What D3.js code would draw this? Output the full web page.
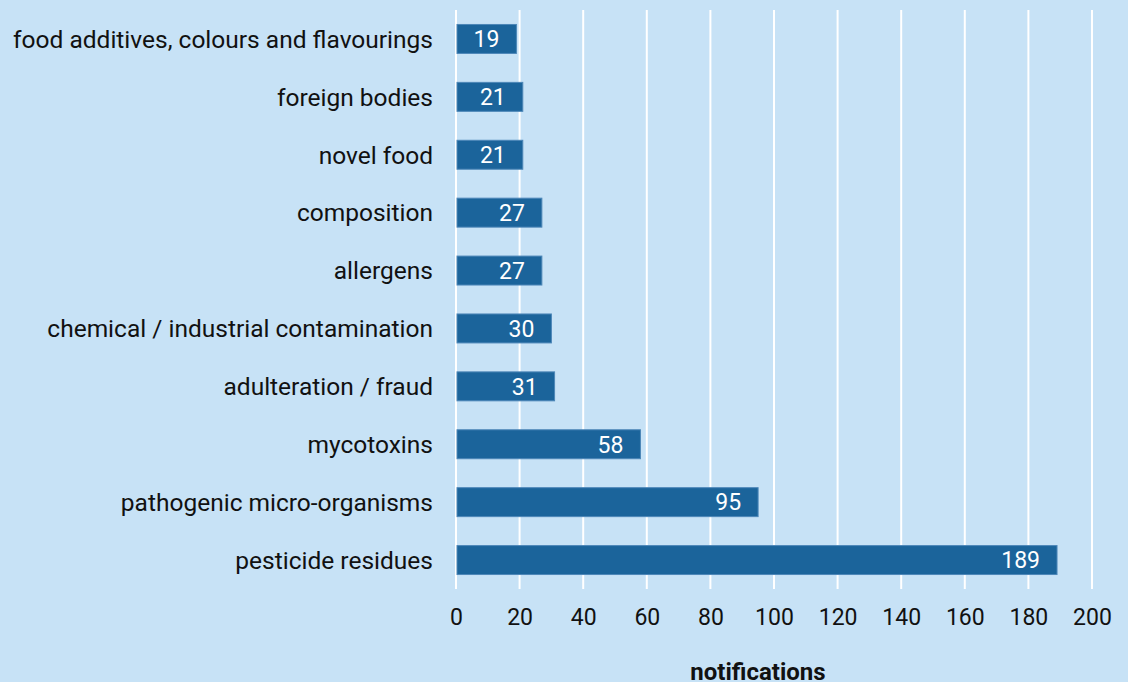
<!DOCTYPE html>
<html>
<head>
<meta charset="utf-8">
<script src="https://cdn.jsdelivr.net/npm/d3@7"></script>
<style>
  html, body { margin: 0; padding: 0; background: #c7e2f6; }
  svg { display: block; font-family: Roboto, sans-serif; }
</style>
</head>
<body>
<svg id="chart" width="1128" height="682"></svg>
<script>
  // hazard categories, top to bottom
  const categories = [
    'food additives, colours and flavourings',
    'foreign bodies',
    'novel food',
    'composition',
    'allergens',
    'chemical / industrial contamination',
    'adulteration / fraud',
    'mycotoxins',
    'pathogenic micro-organisms',
    'pesticide residues'
  ];
  const notifications = [19, 21, 21, 27, 27, 30, 31, 58, 95, 189];
  const xTicks = [0, 20, 40, 60, 80, 100, 120, 140, 160, 180, 200];

  const data = categories.map((c, i) => ({ category: c, value: notifications[i] }));

  const svg = d3.select('#chart');
  const width = +svg.attr('width');
  const height = +svg.attr('height');
  const margin = { top: 10, right: 36, bottom: 93, left: 456 };

  svg.append('rect').attr('width', width).attr('height', height).attr('fill', '#c7e2f6');

  const x = d3.scaleLinear()
    .domain([0, 200])
    .range([margin.left, width - margin.right]);

  const y = d3.scaleBand()
    .domain(categories)
    .range([margin.top, height - margin.bottom])
    .paddingInner(0.5)
    .paddingOuter(0.25);

  // gridlines
  svg.append('g')
    .selectAll('line')
    .data(xTicks)
    .enter()
    .append('line')
    .attr('x1', d => x(d))
    .attr('x2', d => x(d))
    .attr('y1', margin.top)
    .attr('y2', height - margin.bottom)
    .attr('stroke', '#ffffff')
    .attr('stroke-width', 2);

  // bars
  svg.append('g')
    .selectAll('rect')
    .data(data)
    .enter()
    .append('rect')
    .attr('x', x(0) + 1)
    .attr('y', d => y(d.category))
    .attr('width', d => x(d.value) - x(0) - 1)
    .attr('height', y.bandwidth())
    .attr('fill', '#1b649b')
    .attr('stroke', '#4d87b8')
    .attr('stroke-width', 1);

  // value labels inside bars
  svg.append('g')
    .selectAll('text')
    .data(data)
    .enter()
    .append('text')
    .attr('x', d => x(d.value) - 17)
    .attr('y', d => y(d.category) + y.bandwidth() / 2)
    .attr('dy', '0.36em')
    .attr('text-anchor', 'end')
    .attr('fill', '#ffffff')
    .style('font-size', '23px')
    .text(d => d.value);

  // category labels
  svg.append('g')
    .selectAll('text')
    .data(data)
    .enter()
    .append('text')
    .attr('x', margin.left - 23)
    .attr('y', d => y(d.category) + y.bandwidth() / 2)
    .attr('dy', '0.36em')
    .attr('text-anchor', 'end')
    .attr('fill', '#111111')
    .style('font-size', '24.5px')
    .text(d => d.category);

  // x axis
  const xAxis = d3.axisBottom(x).tickValues(xTicks).tickSize(0).tickPadding(0);
  const gx = svg.append('g')
    .attr('transform', `translate(0,${height - margin.bottom + 20})`)
    .call(xAxis);
  gx.select('.domain').remove();
  gx.selectAll('text')
    .attr('fill', '#111111')
    .attr('dy', '0.71em')
    .style('font-size', '23px')
    .style('font-family', 'Roboto, sans-serif');

  svg.append('text')
    .attr('x', 758)
    .attr('y', 680)
    .attr('text-anchor', 'middle')
    .attr('fill', '#111111')
    .style('font-size', '24px')
    .style('font-weight', 'bold')
    .text('notifications');
</script>
</body>
</html>
